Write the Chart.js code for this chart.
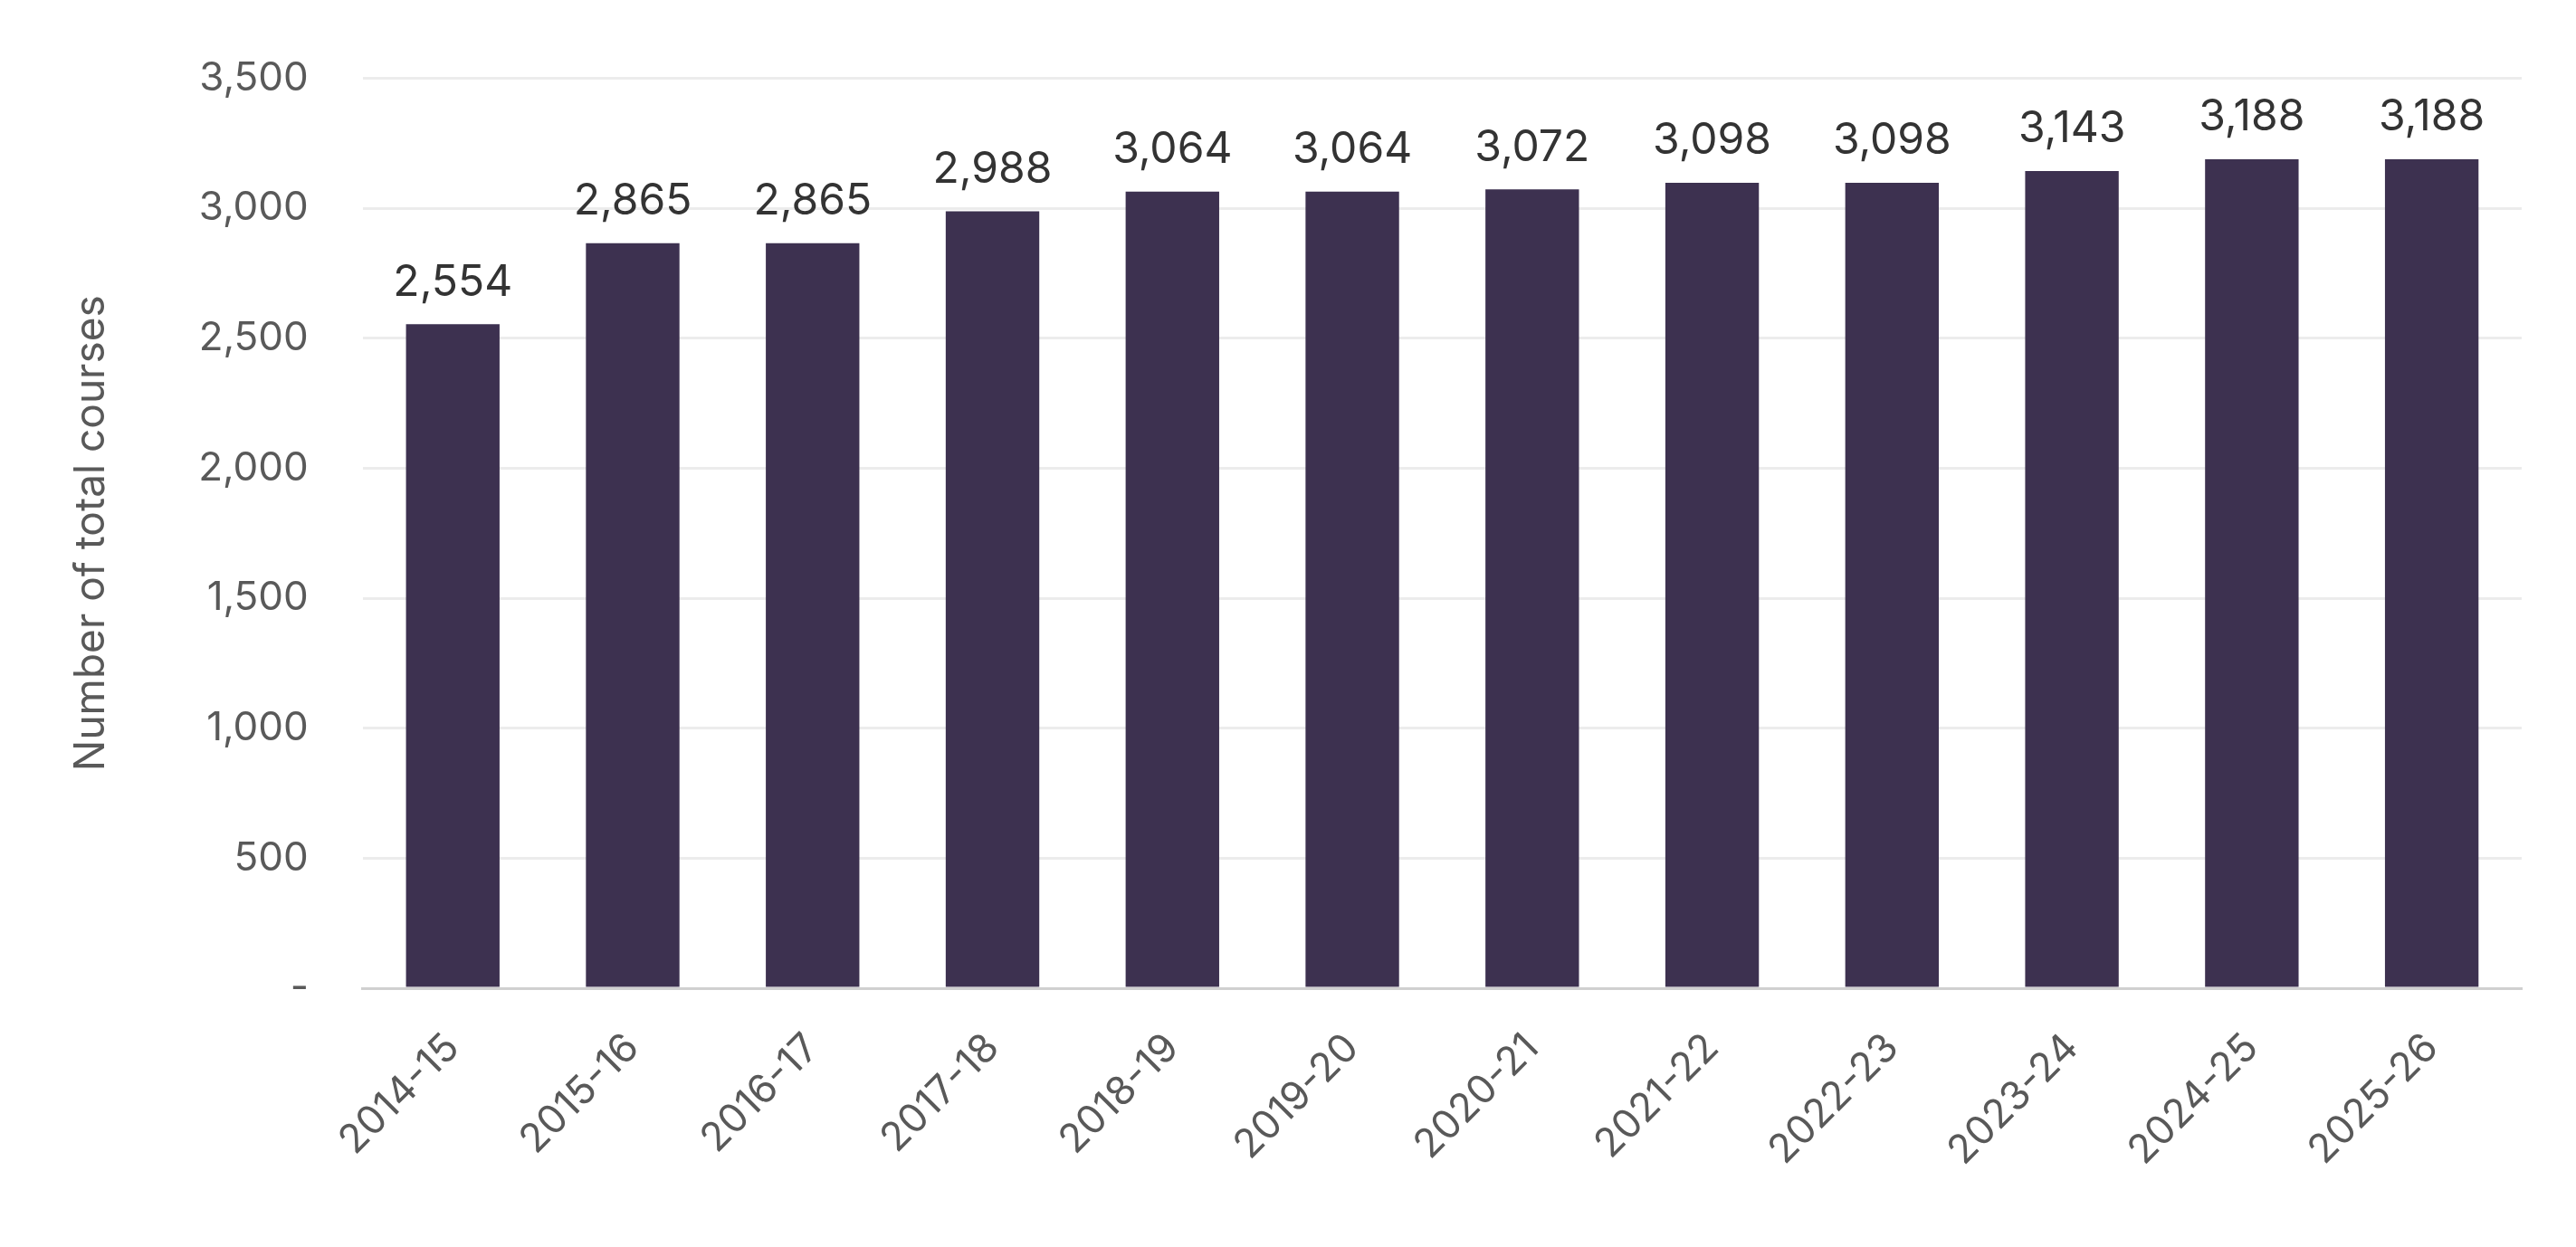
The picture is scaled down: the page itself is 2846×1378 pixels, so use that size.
<!DOCTYPE html>
<html>
<head>
<meta charset="utf-8">
<script src="https://cdn.jsdelivr.net/npm/chart.js@4.4.1/dist/chart.umd.min.js"></script>
<style>
  html, body { margin: 0; padding: 0; background: #fff; }
  #wrap { width: 2846px; height: 1378px; }
</style>
</head>
<body>
<div id="wrap"><canvas id="chart"></canvas></div>
<script>
  const years = ['2014-15', '2015-16', '2016-17', '2017-18', '2018-19', '2019-20',
    '2020-21', '2021-22', '2022-23', '2023-24', '2024-25', '2025-26'];
  const courses = [2554, 2865, 2865, 2988, 3064, 3064, 3072, 3098, 3098, 3143, 3188, 3188];

  // value labels above each bar
  const barLabels = {
    id: 'barLabels',
    afterDatasetsDraw(chart) {
      const ctx = chart.ctx;
      const meta = chart.getDatasetMeta(0);
      ctx.save();
      ctx.font = '48px Inter, "Noto Sans", sans-serif';
      ctx.fillStyle = '#333333';
      ctx.textAlign = 'center';
      ctx.textBaseline = 'bottom';
      meta.data.forEach((bar, i) => {
        ctx.fillText(courses[i].toLocaleString('en-US'), bar.x, bar.y - 22);
      });
      ctx.restore();
    }
  };

  new Chart(document.getElementById('chart'), {
    type: 'bar',
    data: {
      labels: years,
      datasets: [{
        data: courses,
        backgroundColor: '#3d3150',
        barPercentage: 0.52,
        categoryPercentage: 1,
      }],
    },
    options: {
      responsive: true,
      maintainAspectRatio: false,
      animation: false,
      layout: { padding: { left: 70, right: 60, top: 40, bottom: 40 } },
      plugins: { legend: { display: false }, tooltip: { enabled: false } },
      scales: {
        x: {
          grid: { display: false, drawTicks: false },
          border: { color: '#d0d0d0', width: 3 },
          ticks: {
            color: '#595959',
            font: { size: 44, family: 'Inter, "Noto Sans", sans-serif' },
            maxRotation: 45, minRotation: 45, padding: 40,
          },
        },
        y: {
          min: 0, max: 3500,
          grid: { color: '#ececec', lineWidth: 3, drawTicks: false },
          border: { display: false },
          ticks: {
            stepSize: 500, padding: 60,
            color: '#595959',
            font: { size: 44, family: 'Inter, "Noto Sans", sans-serif' },
            callback: v => v === 0 ? '-' : v.toLocaleString('en-US'),
          },
          title: {
            display: true, text: 'Number of total courses',
            color: '#595959', padding: { bottom: 30 },
            font: { size: 46, family: 'Inter, "Noto Sans", sans-serif' },
          },
        },
      },
    },
    plugins: [barLabels],
  });
</script>
</body>
</html>
